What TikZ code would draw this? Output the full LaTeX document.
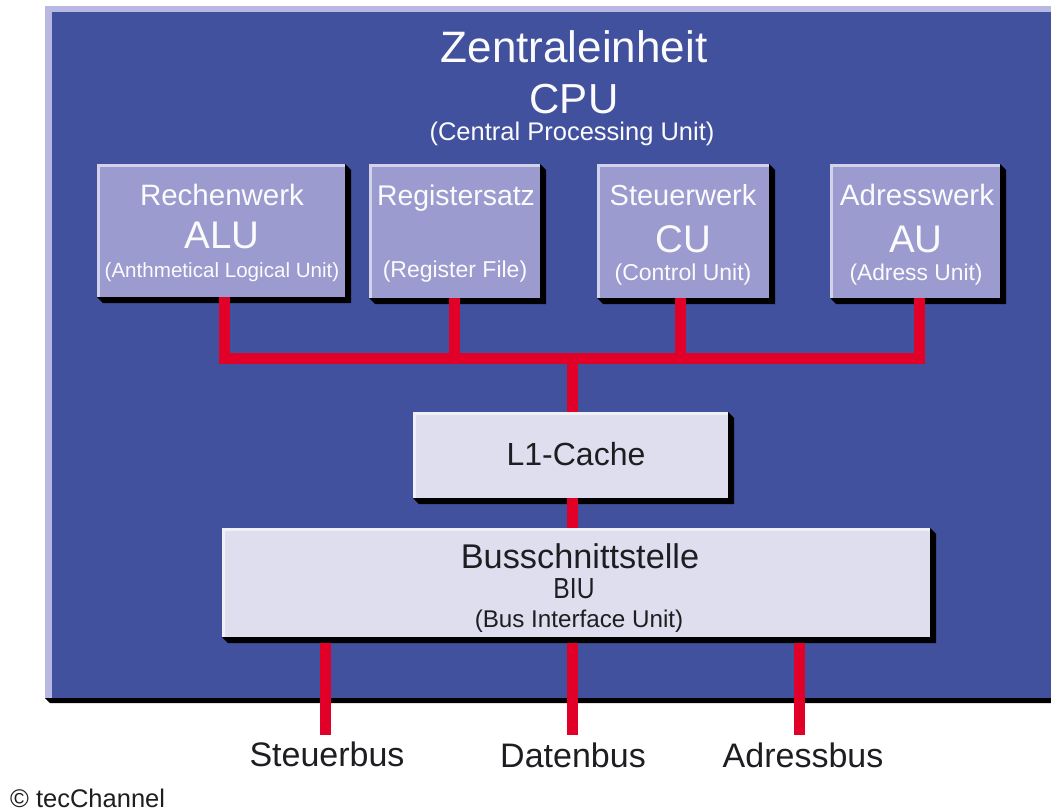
\documentclass[tikz,border=0pt]{standalone}
\usepackage{fontspec}
\setmainfont{Liberation Sans}

\definecolor{panel}{RGB}{66,81,158}
\definecolor{panelhi}{RGB}{184,184,226}
\definecolor{unit}{RGB}{155,155,208}
\definecolor{store}{RGB}{222,222,238}
\definecolor{busred}{RGB}{224,0,40}
\definecolor{ink}{RGB}{30,30,34}

\newcommand\fs[1]{\fontsize{#1}{#1}\selectfont}

% bevelled box with a hard black drop shadow
% #1 name, #2 left, #3 top, #4 right, #5 bottom, #6 fill colour
\newcommand\bevelbox[6]{%
  \fill[black] (#4,#3) -- (#4+6,#3+6) -- (#4+6,#5+6) -- (#2+6,#5+6) -- (#2,#5) -- cycle;
  \node[fill=#6, inner sep=0pt, outer sep=0pt,
        minimum width={(#4-#2)*1pt}, minimum height={(#5-#3)*1pt}]
        (#1) at ({(#2+#4)/2},{(#3+#5)/2}) {};
  \draw[white!55!#6, line width=2.5pt] (#2+1.25,#5) -- (#2+1.25,#3+1.25) -- (#4,#3+1.25);
}

\begin{document}
\begin{tikzpicture}[x=1pt, y=-1pt,
  bus/.style={draw=busred, line width=11pt, line join=miter},
  txt/.style={inner sep=0pt, anchor=base},
  wtxt/.style={txt, text=white!96!unit},
  dtxt/.style={txt, text=ink}]
\useasboundingbox (0,0) rectangle (1051,811);
\fill[white] (0,0) rectangle (1051,811);

% CPU panel
\fill[black] (45,698) -- (50,703) -- (1051,703) -- (1051,698) -- cycle;
\fill[panelhi] (45,6) rectangle (1051,698);
\fill[panel] (52,12) rectangle (1051,698);

% title
\node[wtxt] (title) at (574,62) {\fs{44}Zentraleinheit};
\node[wtxt] (cpu) at (574,113) {\fs{42}CPU};
\node[wtxt] (cpulong) at (572,140) {\fs{25.5}(Central Processing Unit)};

% units
\bevelbox{alu}{97}{164}{345}{297}{unit}
\bevelbox{reg}{369}{164}{540}{298}{unit}
\bevelbox{cu}{597}{164}{769}{298}{unit}
\bevelbox{au}{830}{164}{1000}{298}{unit}
\bevelbox{l1}{413}{412}{728}{498}{store}
\bevelbox{biu}{222}{528}{930}{637}{store}

% bus lines
\coordinate (hub) at (572,358);
\coordinate (sb) at (325,735);
\coordinate (db) at (572,735);
\coordinate (ab) at (799,735);

\draw[bus] ([xshift=3pt]alu.south) |- ([xshift=4pt]au.south |- hub) -- ([xshift=4pt]au.south);
\draw[bus] (reg.south) -- (reg.south |- hub);
\draw[bus] ([xshift=-3pt]cu.south) -- ([xshift=-3pt]cu.south |- hub);
\draw[bus] (hub) -- (hub |- l1.north);
\draw[bus] (l1.south -| hub) -- (biu.north -| hub);
\draw[bus] ([yshift=-6pt]biu.south -| sb) -- (sb);
\draw[bus] ([yshift=-6pt]biu.south -| db) -- (db);
\draw[bus] ([yshift=-6pt]biu.south -| ab) -- (ab);

% unit labels
\node[wtxt] (alu1) at (222,205) {\fs{29.5}Rechenwerk};
\node[wtxt] (alu2) at (222,248) {\fs{38.5}ALU};
\node[wtxt] (alu3) at (222,277) {\fs{20.6}(Anthmetical Logical Unit)};

\node[wtxt] (reg1) at (456,205) {\fs{28.4}Registersatz};
\node[wtxt] (reg3) at (455,277) {\fs{23}(Register File)};

\node[wtxt] (cu1) at (683,205) {\fs{29}Steuerwerk};
\node[wtxt] (cu2) at (683,252) {\fs{38.5}CU};
\node[wtxt] (cu3) at (683,280) {\fs{23}(Control Unit)};

\node[wtxt] (au1) at (917,205) {\fs{29.5}Adresswerk};
\node[wtxt] (au2) at (916,252) {\fs{38.5}AU};
\node[wtxt] (au3) at (916,280) {\fs{22.8}(Adress Unit)};

\node[dtxt] (l1t) at (576,465) {\fs{32}L1-Cache};

\node[dtxt] (biu1) at (580,568) {\fs{34.3}Busschnittstelle};
\node[dtxt] (biu2) at (574,598) {\scalebox{0.85}[1]{\fs{29}BIU}};
\node[dtxt] (biu3) at (579,627) {\fs{24.2}(Bus Interface Unit)};

% bus labels
\node[dtxt] (sbl) at (327,766) {\fs{34}Steuerbus};
\node[dtxt] (dbl) at (573,767) {\fs{34}Datenbus};
\node[dtxt] (abl) at (803,767) {\fs{34}Adressbus};

\node[dtxt, anchor=base west] (copy) at (10,807) {\fs{25.5}© tecChannel};
\end{tikzpicture}
\end{document}
